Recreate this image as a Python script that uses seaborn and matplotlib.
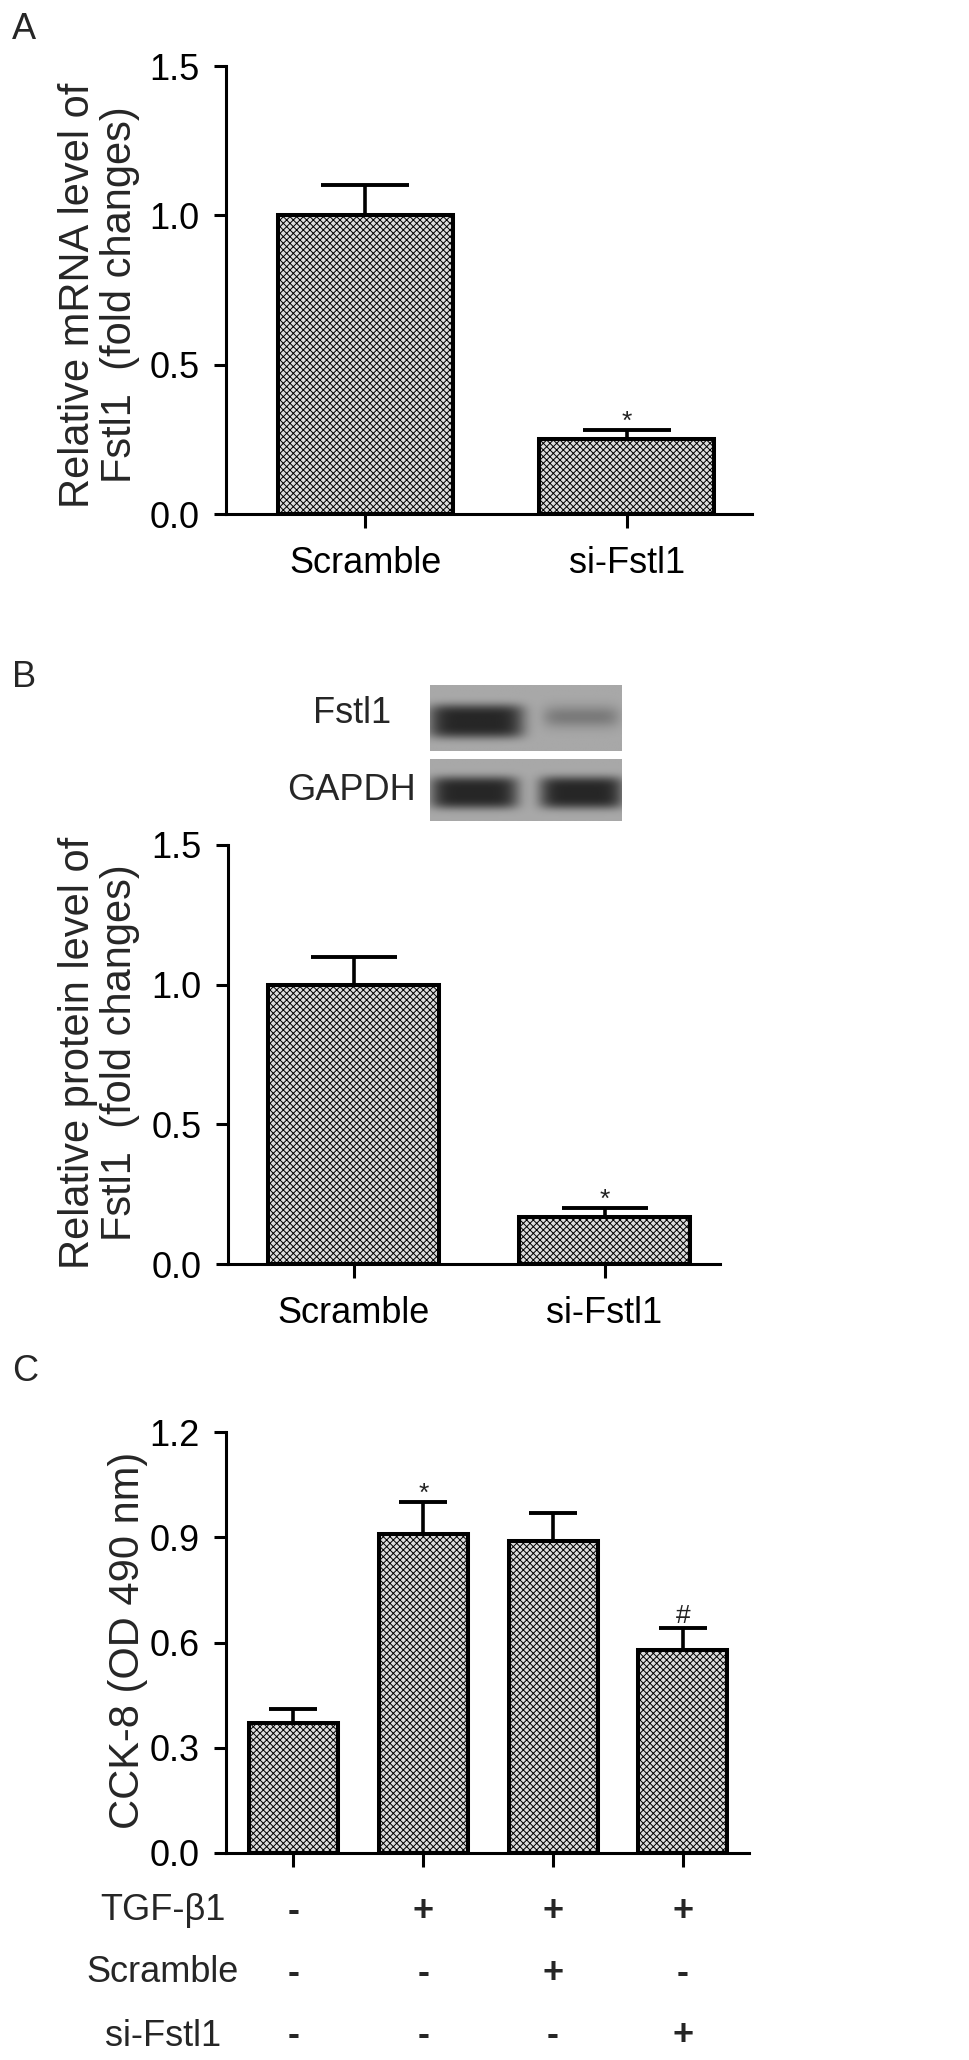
import numpy as np
import pandas as pd
import matplotlib
matplotlib.use("Agg")
import matplotlib.pyplot as plt
import seaborn as sns

# ---------------- data ----------------
ab_groups = ["Scramble", "si-Fstl1"]
a_mean = [1.00, 0.25]
a_err = [0.10, 0.03]
a_marks = ["", "*"]
a_ylabel = "Relative mRNA level of\nFstl1  (fold changes)"

b_mean = [1.00, 0.17]
b_err = [0.10, 0.03]
b_marks = ["", "*"]
b_ylabel = "Relative protein level of\nFstl1  (fold changes)"
ab_yticks = [0.0, 0.5, 1.0, 1.5]

blot_labels = ["Fstl1", "GAPDH"]
blot_fstl1 = [1.0, 0.35]
blot_gapdh = [1.0, 1.0]

c_groups = ["g1", "g2", "g3", "g4"]
c_mean = [0.37, 0.91, 0.89, 0.58]
c_err = [0.04, 0.09, 0.08, 0.06]
c_marks = ["", "*", "", "#"]
c_ylabel = "CCK-8 (OD 490 nm)"
c_yticks = [0.0, 0.3, 0.6, 0.9, 1.2]
c_factor_names = ["TGF-\u03b21", "Scramble", "si-Fstl1"]
c_tgf = ["-", "+", "+", "+"]
c_scr = ["-", "-", "+", "-"]
c_si = ["-", "-", "-", "+"]

# ---------------- style ----------------
sns.set_theme(style="ticks")
plt.rcParams["font.family"] = ["Liberation Sans", "DejaVu Sans"]
plt.rcParams["hatch.color"] = "#4a4a4a"
plt.rcParams["hatch.linewidth"] = 0.7

W, H = 970, 2060
fig = plt.figure(figsize=(W / 100, H / 100), dpi=100)

TICK_FS = 26
LABEL_FS = 30
LETTER_FS = 26
LW = 2.2


def rect(left, right, top, bottom):
    return [left / W, 1 - bottom / H, (right - left) / W, (bottom - top) / H]


def draw_panel(ax, groups, means, errs, marks, yticks, xlim, capsize, width,
               show_xlabels=True):
    df = pd.DataFrame({"group": groups, "value": means})
    sns.barplot(data=df, x="group", y="value", order=groups, ax=ax,
                color="#dcdcdc", width=width, errorbar=None,
                edgecolor="black", linewidth=2.9, saturation=1)
    for p in ax.patches:
        p.set_hatch("xxxxx")
        p.set_zorder(2)
    xs = np.arange(len(groups))
    ax.errorbar(xs, means, yerr=[np.zeros(len(errs)), errs], fmt="none",
                ecolor="black", elinewidth=2.6, capsize=capsize, capthick=2.8,
                zorder=3)
    for x, m, e, mk in zip(xs, means, errs, marks):
        if mk:
            off = 4 if mk == "#" else 1
            ax.annotate(mk, xy=(x, m + e), xytext=(0, off), textcoords="offset points",
                        ha="center", va="baseline", fontsize=19, color="#222222")
    ax.set_ylim(yticks[0], yticks[-1])
    ax.set_xlim(*xlim)
    ax.set_yticks(yticks)
    ax.set_yticklabels([f"{t:.1f}" for t in yticks], fontsize=TICK_FS)
    ax.set_xlabel("")
    ax.set_ylabel("")
    sns.despine(ax=ax)
    for s in ["left", "bottom"]:
        ax.spines[s].set_linewidth(LW)
        ax.spines[s].set_color("black")
    ax.tick_params(axis="y", length=9, width=LW, pad=10, colors="black")
    ax.tick_params(axis="x", length=10, width=LW, pad=13, colors="black",
                   labelsize=TICK_FS)
    if not show_xlabels:
        ax.set_xticklabels([])
    ax.set_facecolor("white")


# Panel A
axA = fig.add_axes(rect(226, 752, 66, 514))
draw_panel(axA, ab_groups, a_mean, a_err, a_marks, ab_yticks, (-0.534, 1.48), 32, 0.67)
fig.text(99 / W, 1 - 295 / H, a_ylabel, rotation=90, ha="center", va="center",
         multialignment="center", fontsize=LABEL_FS, linespacing=1.05)
fig.text(12 / W, 1 - 12 / H, "A", ha="left", va="top", fontsize=LETTER_FS)

# Panel B
axB = fig.add_axes(rect(228, 720, 845, 1264))
draw_panel(axB, ab_groups, b_mean, b_err, b_marks, ab_yticks, (-0.50, 1.46), 31, 0.68)
fig.text(99 / W, 1 - 1053 / H, b_ylabel, rotation=90, ha="center", va="center",
         multialignment="center", fontsize=LABEL_FS, linespacing=1.05)
fig.text(12 / W, 1 - 660 / H, "B", ha="left", va="top", fontsize=LETTER_FS)


# Western blot inset
def blot_image(intensities, centers, halfw, h=64, w=190, bg=0.66, dark=0.15):
    yy, xx = np.mgrid[0:h, 0:w]
    xf = xx / (w - 1)
    yf = yy / (h - 1)
    img = np.full((h, w), bg)
    for inten, c, hw in zip(intensities, centers, halfw):
        prof_x = np.exp(-((xf - c) / hw) ** 6)
        prof_y = np.exp(-((yf - 0.55) / 0.26) ** 4)
        if inten < 0.6:
            prof_y = np.exp(-((yf - 0.48) / 0.17) ** 2)
        img = img - inten * (bg - dark) * prof_x * prof_y
    return img


ax_b1 = fig.add_axes(rect(430, 622, 685, 751))
ax_b1.imshow(blot_image(blot_fstl1, [0.24, 0.79], [0.25, 0.20]), cmap="gray",
             vmin=0, vmax=1, aspect="auto", interpolation="bilinear")
ax_b1.set_axis_off()
ax_b2 = fig.add_axes(rect(430, 622, 759, 821))
ax_b2.imshow(blot_image(blot_gapdh, [0.23, 0.79], [0.23, 0.22]), cmap="gray",
             vmin=0, vmax=1, aspect="auto", interpolation="bilinear")
ax_b2.set_axis_off()
fig.text(352 / W, 1 - 714 / H, blot_labels[0], ha="center", va="center", fontsize=TICK_FS)
fig.text(352 / W, 1 - 790 / H, blot_labels[1], ha="center", va="center", fontsize=TICK_FS)

# Panel C
c_xlim = (-0.52, 3.51)
axC = fig.add_axes(rect(226, 749, 1432, 1853))
draw_panel(axC, c_groups, c_mean, c_err, c_marks, c_yticks, c_xlim, 17, 0.686,
           show_xlabels=False)
fig.text(128 / W, 1 - 1640 / H, c_ylabel, rotation=90, ha="center", va="center",
         fontsize=LABEL_FS)
fig.text(12 / W, 1 - 1354 / H, "C", ha="left", va="top", fontsize=LETTER_FS)

row_y = [1911, 1973, 2036]
rows = [c_tgf, c_scr, c_si]
data_per_px = (c_xlim[1] - c_xlim[0]) / (749 - 226)
for name, ry, vals in zip(c_factor_names, row_y, rows):
    yax = (1853 - ry) / (1853 - 1432)
    axC.text(c_xlim[0] - (226 - 163) * data_per_px, yax, name,
             transform=axC.get_xaxis_transform(), ha="center", va="center",
             fontsize=TICK_FS, clip_on=False)
    for i, v in enumerate(vals):
        axC.text(i, yax, v, transform=axC.get_xaxis_transform(), ha="center",
                 va="center", fontsize=TICK_FS, fontweight="bold", clip_on=False)

fig.savefig("out.png", dpi=100, facecolor="white")
